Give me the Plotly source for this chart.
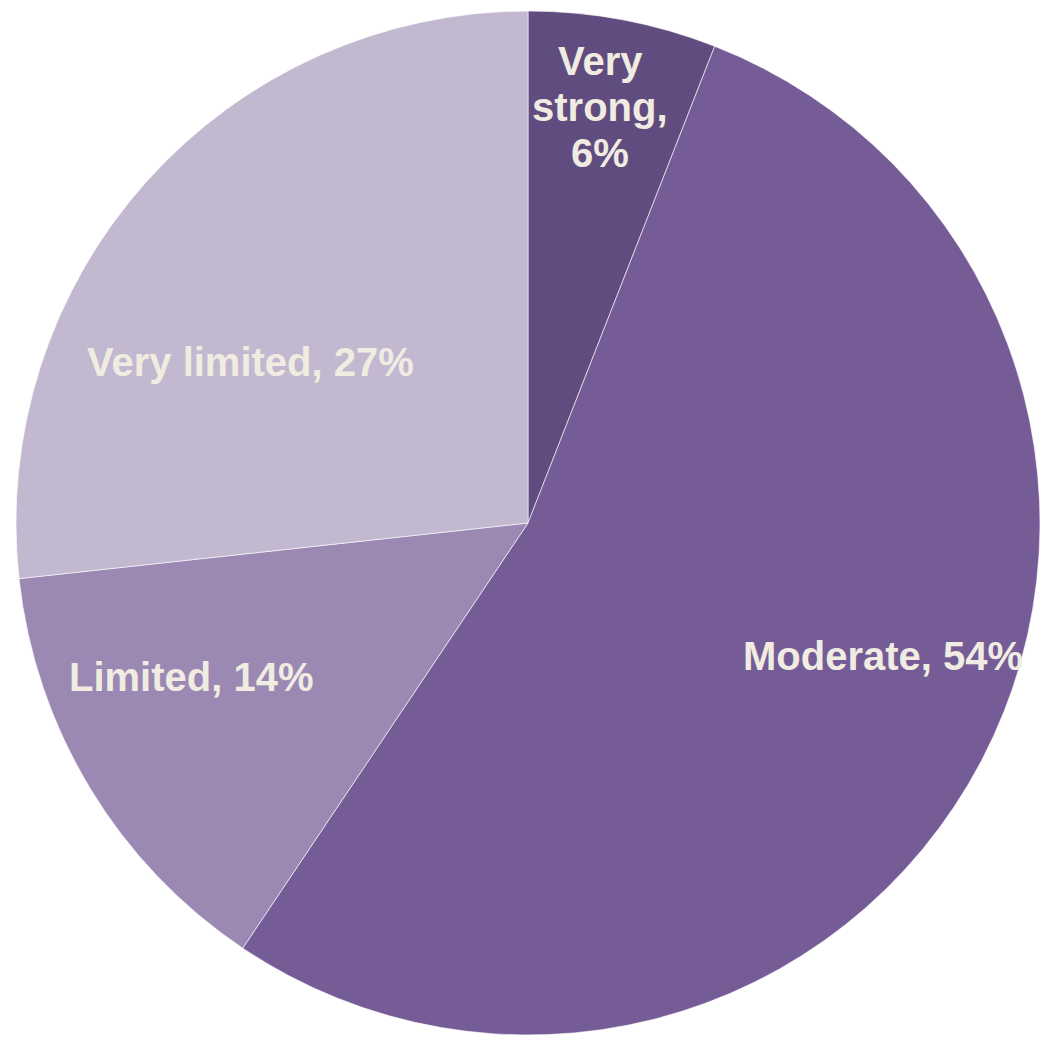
import math
import plotly.graph_objects as go

# Share of respondents by strength rating
categories = ["Very strong", "Moderate", "Limited", "Very limited"]
values = [6, 54, 14, 27]
label_lines = [["Very", "strong,", "6%"], ["Moderate, 54%"], ["Limited, 14%"], ["Very limited, 27%"]]

colors = ["#614C7F", "#765C96", "#9B88B3", "#C2B8D0"]
text_color = "#F0ECE2"
font_family = "Liberation Sans, Arial, sans-serif"
font_size = 40
line_height = 46

# label anchor: position along the slice (0..1 of its sweep) and radial fraction
label_sweep = [0.46, 0.463, 0.632, 0.377]
label_radius = [0.824, 0.74, 0.722, 0.627]

W, H = 1040, 1038
margin = dict(l=16, r=0, t=11, b=3)
plot_w = W - margin["l"] - margin["r"]
plot_h = H - margin["t"] - margin["b"]
R = min(plot_w, plot_h) / 2
cx = margin["l"] + plot_w / 2
cy = margin["t"] + plot_h / 2

fig = go.Figure(
    go.Pie(
        labels=categories,
        values=values,
        sort=False,
        direction="clockwise",
        rotation=0,
        textinfo="none",
        hoverinfo="label+value",
        marker=dict(colors=colors, line=dict(color="rgba(255,255,255,0.6)", width=1)),
        showlegend=False,
    )
)

total = sum(values)
start = 0.0
annotations = []
for val, lines, frac, rho in zip(values, label_lines, label_sweep, label_radius):
    theta = 2 * math.pi * (start + frac * val) / total
    px = cx + rho * R * math.sin(theta)
    py = cy - rho * R * math.cos(theta)
    xp = (px - margin["l"]) / plot_w
    yp = (H - margin["b"] - py) / plot_h
    n = len(lines)
    for i, line in enumerate(lines):
        annotations.append(
            dict(
                x=xp, y=yp, xref="paper", yref="paper",
                text="<b>%s</b>" % line,
                showarrow=False,
                xanchor="center", yanchor="middle",
                yshift=-line_height * (i - (n - 1) / 2),
                font=dict(family=font_family, size=font_size, color=text_color),
            )
        )
    start += val

fig.update_layout(
    width=W,
    height=H,
    margin=dict(margin, pad=0),
    paper_bgcolor="white",
    plot_bgcolor="white",
    annotations=annotations,
)

fig.write_html("out.html")
